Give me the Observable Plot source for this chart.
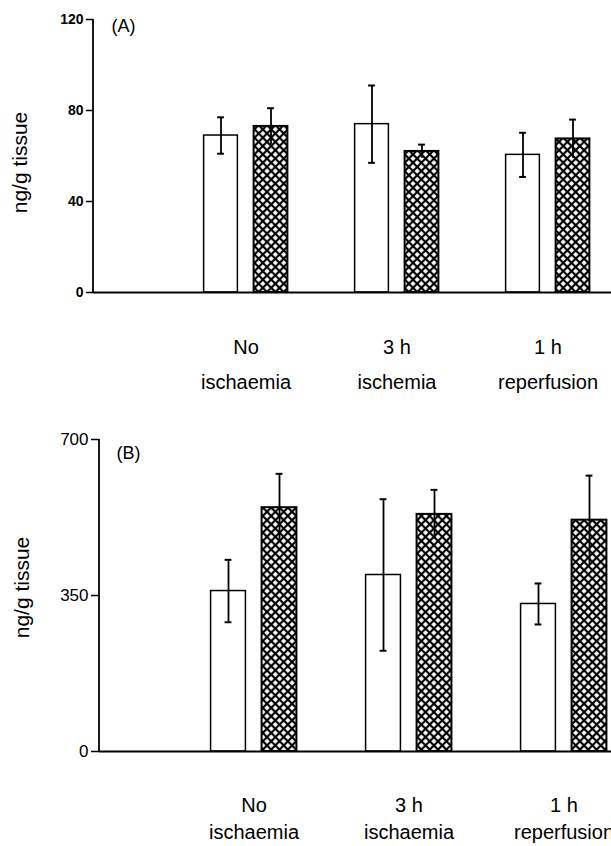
<!DOCTYPE html>
<html>
<head>
<meta charset="utf-8">
<script src="https://cdn.jsdelivr.net/npm/d3@7"></script>
<script src="https://cdn.jsdelivr.net/npm/@observablehq/plot@0.6"></script>
<style>
  body { margin: 0; background: #fff; }
  #chart { width: 611px; }
  #chart svg { display: block; }
</style>
</head>
<body>
<div id="chart"></div>
<script>
// ---- data ----
const categories = ["No ischaemia", "3 h ischemia", "1 h reperfusion"];
const labelLine1 = ["No", "3 h", "1 h"];
const labelLine2A = ["ischaemia", "ischemia", "reperfusion"];
const labelLine2B = ["ischaemia", "ischaemia", "reperfusion"];

// Panel A (ng/g tissue)
const aWhite = [69, 74, 60.5];
const aWhiteErr = [8, 17, 9.7];
const aHatch = [73, 62, 67.5];
const aHatchErr = [8, 3, 8.5];
const aTicks = [0, 40, 80, 120];

// Panel B (ng/g tissue)
const bWhite = [360, 396, 331];
const bWhiteErr = [70, 170, 46];
const bHatch = [547, 532, 519];
const bHatchErr = [76, 55, 100];
const bTicks = [0, 350, 700];

const FONT = "'Liberation Sans', Arial, Helvetica, sans-serif";

function rows(values, errs) {
  return categories.map((c, i) => ({cat: c, v: values[i], lo: values[i] - errs[i], hi: values[i] + errs[i]}));
}

function panel(o) {
  const white = rows(o.white, o.whiteErr);
  const hatch = rows(o.hatch, o.hatchErr);
  const labels = categories.map((c, i) => ({cat: c, l1: labelLine1[i], l2: o.line2[i]}));
  const step = (o.range[1] - o.range[0]) / categories.length;
  const half = step / 2;
  const bw = o.barW / 2;
  const cap = 3.5;
  const pid = "hatch" + o.id;
  const S = 5.9, W = 3.7;

  const defs = () => {
    const d = d3.create("svg:defs");
    const p = d.append("pattern").attr("id", pid).attr("patternUnits", "userSpaceOnUse")
      .attr("width", S).attr("height", S).attr("patternTransform", "rotate(45)");
    p.append("rect").attr("width", S).attr("height", S).attr("fill", "#000");
    p.append("rect").attr("x", (S - W) / 2).attr("y", (S - W) / 2).attr("width", W).attr("height", W).attr("fill", "#fff");
    return d.node();
  };
  const yLine = (index, scales, values, dims) => {
    const g = d3.create("svg:line")
      .attr("x1", dims.marginLeft).attr("x2", dims.marginLeft)
      .attr("y1", scales.y(o.yMax)).attr("y2", scales.y(0))
      .attr("stroke", "#000").attr("stroke-width", 1.8);
    return g.node();
  };

  return Plot.plot({
    width: 611,
    height: o.height,
    marginTop: o.marginTop,
    marginBottom: o.marginBottom,
    marginLeft: o.marginLeft,
    marginRight: 0,
    style: {fontFamily: FONT, color: "#000", background: "#fff"},
    x: {type: "band", domain: categories, range: o.range, padding: 0, axis: null},
    y: {domain: [0, o.yMax], axis: null},
    marks: [
      defs,
      Plot.barY(white, {x: "cat", y: "v", fill: "#fff", stroke: "#000", strokeWidth: 1.5,
        insetLeft: half - o.off - bw, insetRight: half + o.off - bw}),
      Plot.barY(hatch, {x: "cat", y: "v", fill: `url(#${pid})`, stroke: "#000", strokeWidth: 2,
        insetLeft: half + o.off - bw, insetRight: half - o.off - bw}),
      Plot.ruleX(white, {x: "cat", y1: "lo", y2: "hi", dx: -o.off, stroke: "#000", strokeWidth: 1.8}),
      Plot.ruleX(hatch, {x: "cat", y1: "lo", y2: "hi", dx: o.off, stroke: "#000", strokeWidth: 1.8}),
      Plot.tickY(white, {x: "cat", y: "hi", stroke: "#000", strokeWidth: 2,
        insetLeft: half - o.off - cap, insetRight: half + o.off - cap}),
      Plot.tickY(white, {x: "cat", y: "lo", stroke: "#000", strokeWidth: 2,
        insetLeft: half - o.off - cap, insetRight: half + o.off - cap}),
      Plot.tickY(hatch, {x: "cat", y: "hi", stroke: "#000", strokeWidth: 2,
        insetLeft: half + o.off - cap, insetRight: half - o.off - cap}),
      Plot.ruleY([0], {stroke: "#000", strokeWidth: 1.8}),
      yLine,
      Plot.axisY({ticks: o.ticks, tickSize: o.tickSize, tickPadding: o.tickPadding, label: null,
        fontSize: o.tickFont, fontWeight: o.tickWeight, strokeWidth: 1.5}),
      Plot.text(labels, {x: "cat", y: () => 0, text: "l1", dy: o.l1dy, lineAnchor: "bottom",
        fontSize: 20, fill: "#000"}),
      Plot.text(labels, {x: "cat", y: () => 0, text: "l2", dy: o.l2dy, lineAnchor: "bottom",
        fontSize: 20, fill: "#000"}),
      Plot.text([o.panelLabel], {frameAnchor: "top-left", dx: o.pdx, dy: o.pdy, textAnchor: "start",
        lineAnchor: "middle", fontSize: 18, fill: "#000"}),
      Plot.text(["ng/g tissue"], {frameAnchor: "left", rotate: -90, dx: o.ydx, dy: o.ydy,
        textAnchor: "middle", lineAnchor: "middle", fontSize: 21, fill: "#000"})
    ]
  });
}

const chart = document.getElementById("chart");
chart.append(panel({
  id: "A", white: aWhite, whiteErr: aWhiteErr, hatch: aHatch, hatchErr: aHatchErr,
  ticks: aTicks, yMax: 120, line2: labelLine2A,
  height: 420, marginTop: 19, marginBottom: 128, marginLeft: 93,
  range: [169.4, 623.1], barW: 34, off: 25,
  tickSize: 7, tickPadding: 3, tickFont: 14, tickWeight: "bold",
  l1dy: 61, l2dy: 96, panelLabel: "(A)", pdx: 18, pdy: 7, ydx: -73, ydy: 6.5
}));
chart.append(panel({
  id: "B", white: bWhite, whiteErr: bWhiteErr, hatch: bHatch, hatchErr: bHatchErr,
  ticks: bTicks, yMax: 700, line2: labelLine2B,
  height: 426, marginTop: 19, marginBottom: 95, marginLeft: 99,
  range: [176.1, 641.6], barW: 35, off: 25.5,
  tickSize: 8, tickPadding: 3, tickFont: 17, tickWeight: "normal",
  l1dy: 60, l2dy: 87, panelLabel: "(B)", pdx: 17, pdy: 14, ydx: -77.5, ydy: -8
}));
</script>
</body>
</html>
